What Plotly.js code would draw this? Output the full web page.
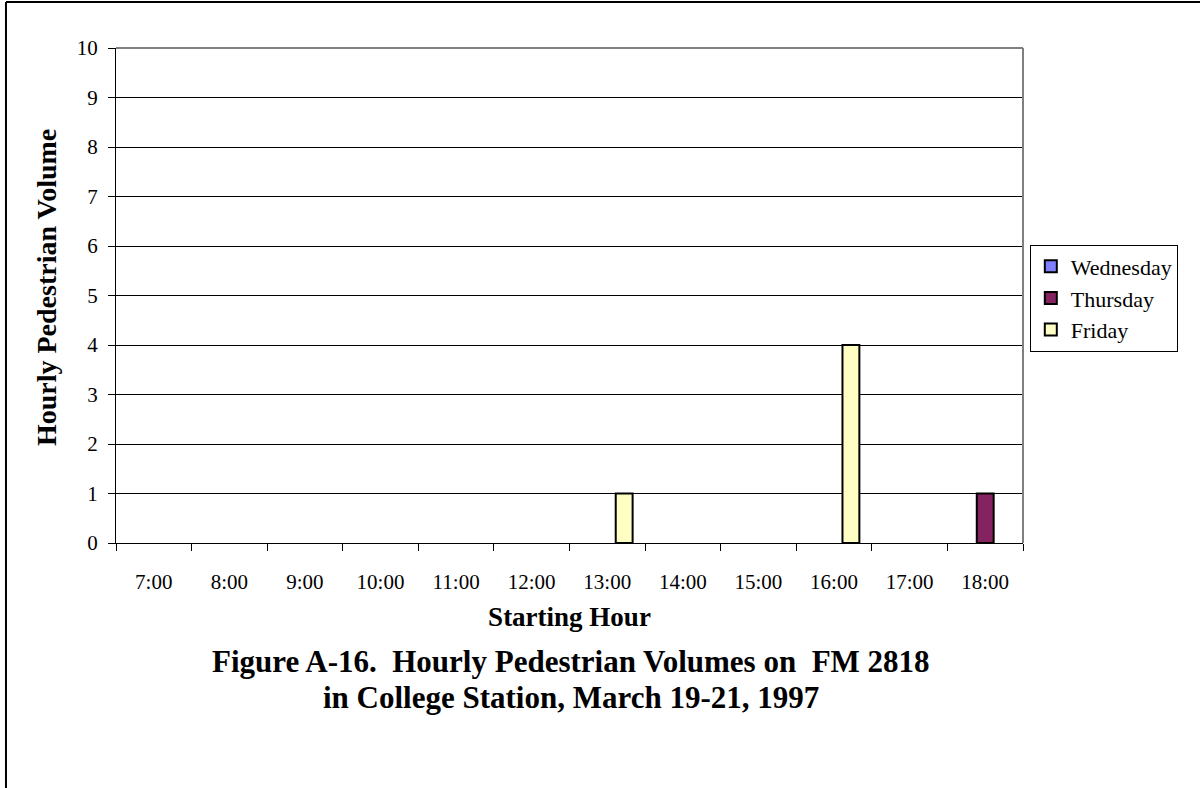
<!DOCTYPE html>
<html>
<head>
<meta charset="utf-8">
<script src="https://cdn.plot.ly/plotly-3.0.1.min.js"></script>
<style>
html,body{margin:0;padding:0;background:#fff;}
#chart{width:1200px;height:788px;}
</style>
</head>
<body>
<div id="chart"></div>
<script>
const hours = ["7:00","8:00","9:00","10:00","11:00","12:00","13:00","14:00","15:00","16:00","17:00","18:00"];
const wednesday = [0,0,0,0,0,0,0,0,0,0,0,0];
const thursday  = [0,0,0,0,0,0,0,0,0,0,0,1];
const friday    = [0,0,0,0,0,0,1,0,0,4,0,0];
const seriesNames = ["Wednesday","Thursday","Friday"];
const seriesColors = ["#8080FF","#852260","#FFFFC4"];

const FONT = "Liberation Serif, Times New Roman, serif";
const data = [wednesday, thursday, friday].map((v,i)=>({
  type:"bar", x:hours, y:v.map(d => d === 0 ? null : d), name:seriesNames[i],
  legendgroup:seriesNames[i],
  marker:{color:seriesColors[i], line:{color:"#000", width:2}}
}));

const layout = {
  width:1200, height:788,
  margin:{l:116, r:177, t:48, b:245},
  paper_bgcolor:"#fff", plot_bgcolor:"#fff",
  font:{family:FONT, color:"#000", size:21},
  barmode:"group", bargap:0.33, bargroupgap:0,
  showlegend:true,
  legend:{x:1.0075, xanchor:"left", y:0.603, yanchor:"top",
    bordercolor:"#000", borderwidth:1, bgcolor:"#fff",
    font:{family:FONT, size:22}, tracegroupgap:0, itemwidth:30},
  xaxis:{
    type:"category", tickson:"boundaries", ticks:"outside", ticklen:7, tickcolor:"#000",
    showline:true, linecolor:"#000", linewidth:1, showgrid:false,
    tickfont:{family:FONT, size:21}, ticklabelstandoff:20,
    title:{text:"<b>Starting Hour</b>", font:{family:FONT, size:27}, standoff:13},
    fixedrange:true
  },
  yaxis:{
    range:[0,10], dtick:1, ticks:"outside", ticklen:7, tickcolor:"#000",
    showline:true, linecolor:"#000", linewidth:1,
    showgrid:true, gridcolor:"#000", gridwidth:1, zeroline:false,
    tickfont:{family:FONT, size:21}, ticklabelstandoff:6,
    fixedrange:true
  },
  shapes:[
    {type:"line", xref:"paper", yref:"paper", x0:0, x1:1, y0:1, y1:1, line:{color:"#808080", width:2}},
    {type:"line", xref:"paper", yref:"paper", x0:1, x1:1, y0:0, y1:1, line:{color:"#808080", width:2}},
    {type:"line", xref:"paper", yref:"paper", x0:-0.1213, x1:1.2, y0:1.093, y1:1.093, line:{color:"#000", width:2}},
    {type:"line", xref:"paper", yref:"paper", x0:-0.1213, x1:-0.1213, y0:-0.5, y1:1.093, line:{color:"#000", width:2}}
  ],
  annotations:[
    {xref:"paper", yref:"paper", x:-0.0772, y:0.517, xanchor:"center", yanchor:"middle",
     textangle:-90, showarrow:false, text:"<b>Hourly Pedestrian Volume</b>",
     font:{family:FONT, size:28}},
    {xref:"paper", yref:"paper", x:0.502, y:-0.2404, xanchor:"center", yanchor:"middle",
     showarrow:false, text:"<b>Figure A-16.  Hourly Pedestrian Volumes on  FM 2818</b>",
     font:{family:FONT, size:31}},
    {xref:"paper", yref:"paper", x:0.502, y:-0.3131, xanchor:"center", yanchor:"middle",
     showarrow:false, text:"<b>in College Station, March 19-21, 1997</b>",
     font:{family:FONT, size:31}}
  ]
};
Plotly.newPlot("chart", data, layout, {displayModeBar:false, staticPlot:true});
</script>
</body>
</html>
